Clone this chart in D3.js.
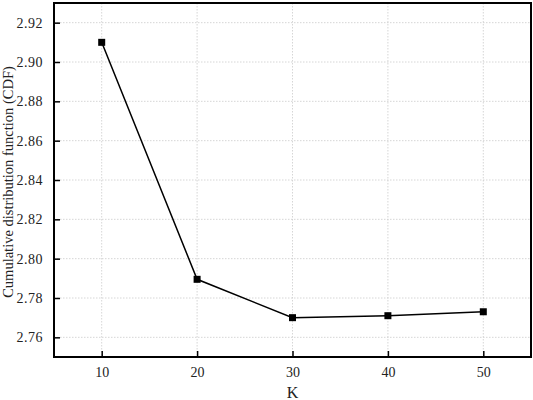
<!DOCTYPE html>
<html><head><meta charset="utf-8">
<script src="https://cdn.jsdelivr.net/npm/d3@7/dist/d3.min.js"></script>
<style>body{margin:0;background:#fff}svg{display:block}text{font-family:"Liberation Serif","DejaVu Serif",serif;fill:#222}</style>
</head><body><svg id="c" width="533" height="400"></svg>
<script>
const kValues = [10, 20, 30, 40, 50];
const cdfValues = [2.910, 2.7895, 2.770, 2.771, 2.773];
const xTicks = [10, 20, 30, 40, 50];
const yTicks = [2.76, 2.78, 2.80, 2.82, 2.84, 2.86, 2.88, 2.90, 2.92];

const m = {l: 54, r: 531, t: 3, b: 357};
const svg = d3.select("#c");
const x = d3.scaleLinear().domain([5, 55]).range([m.l, m.r]);
const y = d3.scaleLinear().domain([2.75, 2.93]).range([m.b, m.t]);

// grid
svg.append("g").selectAll("line").data(yTicks).join("line")
  .attr("x1", m.l).attr("x2", m.r).attr("y1", d => y(d)).attr("y2", d => y(d))
  .attr("stroke", "#ccc").attr("stroke-width", 0.8).attr("stroke-dasharray", "1.5,1.5");
svg.append("g").selectAll("line").data(xTicks).join("line")
  .attr("y1", m.t).attr("y2", m.b).attr("x1", d => x(d)).attr("x2", d => x(d))
  .attr("stroke", "#ccc").attr("stroke-width", 0.8).attr("stroke-dasharray", "1.5,1.5");

// axes (inward ticks)
const xAxis = d3.axisBottom(x).tickValues(xTicks).tickSize(-6).tickPadding(10).tickFormat(d3.format("d"));
const gx = svg.append("g").attr("transform", `translate(0,${m.b})`).call(xAxis);
const yAxis = d3.axisLeft(y).tickValues(yTicks).tickSize(-6).tickPadding(11).tickFormat(d => d3.format(".2f")(d));
const gy = svg.append("g").attr("transform", `translate(${m.l},0)`).call(yAxis);
[gx, gy].forEach(g => {
  g.attr("font-family", '"Liberation Serif", "DejaVu Serif", serif').attr("font-size", 14);
  g.select(".domain").remove();
  g.selectAll(".tick line").attr("stroke", "#000").attr("stroke-width", 1.5);
  g.selectAll("text").attr("fill", "#222");
});
gy.selectAll(".tick text").attr("letter-spacing", "0.5px");

// frame
svg.append("rect").attr("x", m.l).attr("y", m.t).attr("width", m.r - m.l).attr("height", m.b - m.t)
  .attr("fill", "none").attr("stroke", "#000").attr("stroke-width", 2);

// line
const pts = kValues.map((k, i) => [k, cdfValues[i]]);
svg.append("path").datum(pts)
  .attr("d", d3.line().x(d => x(d[0])).y(d => y(d[1])))
  .attr("fill", "none").attr("stroke", "#000").attr("stroke-width", 1.5);
svg.append("g").selectAll("rect").data(pts).join("rect")
  .attr("x", d => x(d[0]) - 3.5).attr("y", d => y(d[1]) - 3.5)
  .attr("width", 7).attr("height", 7).attr("fill", "#000");

// labels
svg.append("text").attr("x", x(30)).attr("y", 398).attr("text-anchor", "middle")
  .attr("font-size", 16).text("K");
svg.append("text").attr("transform", `translate(13,182) rotate(-90)`)
  .attr("text-anchor", "middle").attr("font-size", 14.5).text("Cumulative distribution function (CDF)");
</script></body></html>
